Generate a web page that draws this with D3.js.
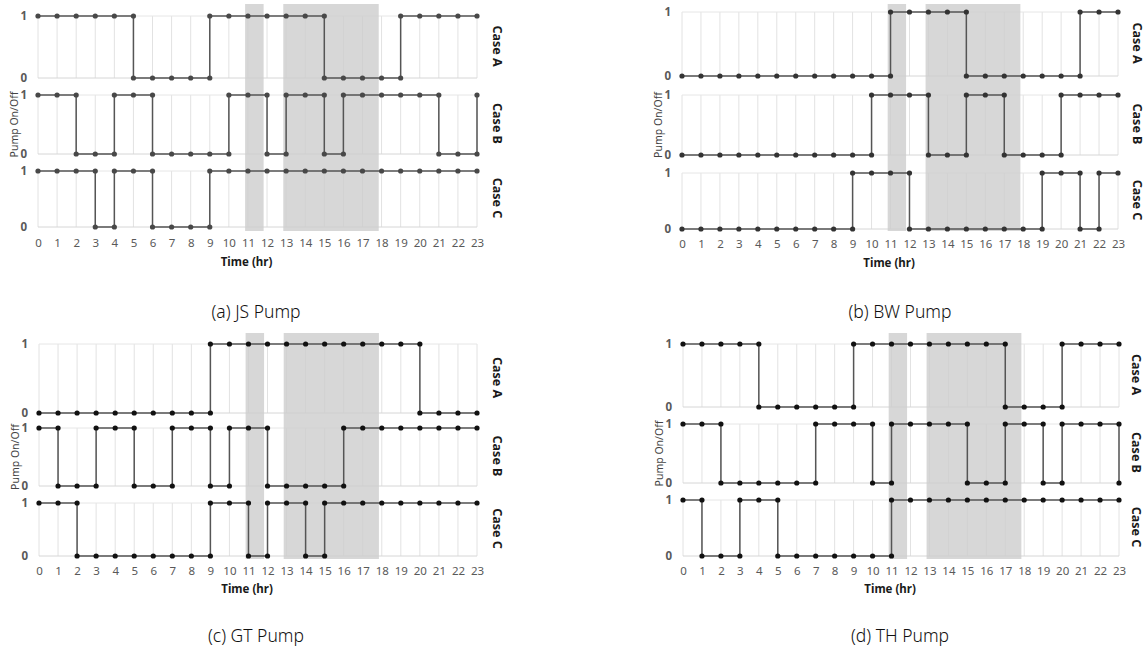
<!DOCTYPE html>
<html>
<head>
<meta charset="utf-8">
<script src="https://cdn.jsdelivr.net/npm/d3@7"></script>
<style>
body { margin: 0; background: #fff; }
svg text { font-family: "Noto Sans", "Open Sans", sans-serif; }
</style>
</head>
<body>
<svg id="chart" width="1148" height="647"></svg>
<script>
const hours = [0, 1, 2, 3, 4, 5, 6, 7, 8, 9, 10, 11, 12, 13, 14, 15, 16, 17, 18, 19, 20, 21, 22, 23];
const caseNames = ["Case A", "Case B", "Case C"];
const pumpTitles = ["(a) JS Pump", "(b) BW Pump", "(c) GT Pump", "(d) TH Pump"];
// shaded time windows (hr)
const peakBands = [[10.85, 11.82], [12.85, 17.85]];

// pump state per hour, rows = Case A, B, C
const jsPump = [
    [1,1,1,1,1,0,0,0,0,1,1,1,1,1,1,0,0,0,0,1,1,1,1,1],
    [1,1,0,0,1,1,0,0,0,0,1,1,0,1,1,0,1,1,1,1,1,0,0,1],
    [1,1,1,0,1,1,0,0,0,1,1,1,1,1,1,1,1,1,1,1,1,1,1,1]
];
const bwPump = [
    [0,0,0,0,0,0,0,0,0,0,0,1,1,1,1,0,0,0,0,0,0,1,1,1],
    [0,0,0,0,0,0,0,0,0,0,1,1,1,0,0,1,1,0,0,0,1,1,1,1],
    [0,0,0,0,0,0,0,0,0,1,1,1,0,0,0,0,0,0,0,1,1,0,1,1]
];
const gtPump = [
    [0,0,0,0,0,0,0,0,0,1,1,1,1,1,1,1,1,1,1,1,0,0,0,0],
    [1,0,0,1,1,0,0,1,1,0,1,1,0,0,0,0,1,1,1,1,1,1,1,1],
    [1,1,0,0,0,0,0,0,0,1,1,0,1,1,0,1,1,1,1,1,1,1,1,1]
];
const thPump = [
    [1,1,1,1,0,0,0,0,0,1,1,1,1,1,1,1,1,0,0,0,1,1,1,1],
    [1,1,0,0,0,0,0,1,1,1,0,1,1,1,1,0,0,1,1,0,1,1,1,0],
    [1,0,0,1,1,0,0,0,0,0,0,1,1,1,1,1,1,1,1,1,1,1,1,1]
];

const panels = [
    { data: jsPump, title: pumpTitles[0], x0: 38, x1: 477, rows: [[16, 78], [95, 154], [171, 227]],
      bandY: [4, 231], tickY: 243, axisTitleY: 262, caseX: 497, titleX: 256, titleY: 312, dot: "#484848" },
    { data: bwPump, title: pumpTitles[1], x0: 682, x1: 1118, rows: [[12, 76], [95, 155], [173, 229]],
      bandY: [4, 231], tickY: 244, axisTitleY: 263, caseX: 1137, titleX: 900, titleY: 312, dot: "#333" },
    { data: gtPump, title: pumpTitles[2], x0: 39, x1: 477, rows: [[344, 413], [428, 486], [503, 556]],
      bandY: [333, 559], tickY: 571, axisTitleY: 589, caseX: 497, titleX: 256, titleY: 636, dot: "#111" },
    { data: thPump, title: pumpTitles[3], x0: 683, x1: 1119, rows: [[344, 407], [424, 483], [500, 556]],
      bandY: [333, 559], tickY: 571, axisTitleY: 589, caseX: 1136, titleX: 900, titleY: 636, dot: "#111" }
];

const svg = d3.select('#chart');

function drawPanel(p) {
    const g = svg.append('g');
    const x = d3.scaleLinear().domain([0, 23]).range([p.x0, p.x1]);
    const yScales = p.rows.map(r => d3.scaleLinear().domain([0, 1]).range([r[1], r[0]]));

    //grid
    yScales.forEach(y => {
        g.append('g').selectAll('line')
            .data(hours)
            .enter()
            .append('line')
            .attr('x1', d => x(d)).attr('x2', d => x(d))
            .attr('y1', y(1)).attr('y2', y(0))
            .attr('stroke', '#e2e2e2')
            .attr('stroke-width', 1);
        g.append('g').selectAll('line')
            .data([0, 1])
            .enter()
            .append('line')
            .attr('x1', p.x0).attr('x2', p.x1)
            .attr('y1', d => y(d)).attr('y2', d => y(d))
            .attr('stroke', d => d === 0 ? '#d6d6d6' : '#e6e6e6')
            .attr('stroke-width', 1);
    });

    //shaded bands
    g.append('g').selectAll('rect')
        .data(peakBands)
        .enter()
        .append('rect')
        .attr('x', d => x(d[0]))
        .attr('width', d => x(d[1]) - x(d[0]))
        .attr('y', p.bandY[0])
        .attr('height', p.bandY[1] - p.bandY[0])
        .attr('fill', '#cdcdcd')
        .attr('opacity', 0.8);

    //step lines + markers
    p.data.forEach((states, i) => {
        const y = yScales[i];
        let pts = [];
        states.forEach((s, h) => {
            if (h > 0 && states[h - 1] !== s) pts.push({ h: hours[h], s: states[h - 1] });
            pts.push({ h: hours[h], s: s });
        });
        g.append('path').datum(pts)
            .attr('fill', 'none')
            .attr('stroke', '#555')
            .attr('stroke-width', 1.5)
            .attr('d', d3.line().x(d => x(d.h)).y(d => y(d.s)));
        g.append('g').selectAll('circle')
            .data(pts)
            .enter()
            .append('circle')
            .attr('cx', d => x(d.h))
            .attr('cy', d => y(d.s))
            .attr('r', 2.6)
            .attr('fill', p.dot);

        //y ticks
        const yAxis = d3.axisLeft(y).tickValues([0, 1]).tickSize(0).tickPadding(11).tickFormat(d3.format('d'));
        const yAxisG = g.append('g').attr('transform', `translate(${p.x0}, 0)`).call(yAxis);
        yAxisG.select('.domain').remove();
        yAxisG.selectAll('text')
            .attr('font-size', 11.5)
            .attr('font-weight', 'bold')
            .attr('fill', '#595959');

        //case label
        const cy = (p.rows[i][0] + p.rows[i][1]) / 2 - 1;
        g.append('text')
            .attr('transform', `translate(${p.caseX}, ${cy}) rotate(90)`)
            .attr('text-anchor', 'middle')
            .attr('dy', '0.35em')
            .attr('font-size', 12.5)
            .attr('font-weight', 'bold')
            .attr('fill', '#1a1a1a')
            .text(caseNames[i]);
    });

    //x axis
    const xAxis = d3.axisBottom(x).tickValues(hours).tickSize(0).tickPadding(0);
    const xAxisG = g.append('g').attr('transform', `translate(0, ${p.tickY})`).call(xAxis);
    xAxisG.select('.domain').remove();
    xAxisG.selectAll('text')
        .attr('dy', '0.35em')
        .attr('font-size', 11.5)
        .attr('fill', '#595959');

    g.append('text')
        .attr('x', p.x0 + (p.x1 - p.x0) * 0.475)
        .attr('y', p.axisTitleY)
        .attr('dy', '0.35em')
        .attr('text-anchor', 'middle')
        .attr('font-size', 11.5)
        .attr('font-weight', 'bold')
        .attr('fill', '#1a1a1a')
        .text('Time (hr)');

    const midB = (p.rows[1][0] + p.rows[1][1]) / 2;
    g.append('text')
        .attr('transform', `translate(${p.x0 - 24}, ${midB}) rotate(-90)`)
        .attr('text-anchor', 'middle')
        .attr('dy', '0.35em')
        .attr('font-size', 10.5)
        .attr('fill', '#444')
        .text('Pump On/Off');

    g.append('text')
        .attr('x', p.titleX)
        .attr('y', p.titleY)
        .attr('dy', '0.35em')
        .attr('text-anchor', 'middle')
        .attr('font-size', 17.5)
        .attr('font-weight', 300)
        .attr('fill', '#111')
        .text(p.title);
}

panels.forEach(drawPanel);
</script>
</body>
</html>
